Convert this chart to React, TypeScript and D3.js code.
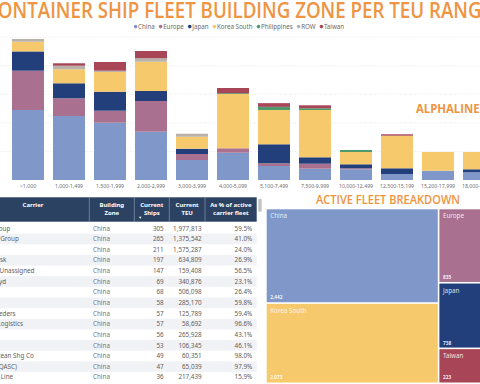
import React from "react";
import * as d3 from "d3";

const W = 480;
const H = 384;

// ---- Bar chart data (ships per TEU range by building zone) ----
const categories = [
  "<1,000", "1,000-1,499", "1,500-1,999", "2,000-2,999", "3,000-3,999", "4,000-5,099",
  "5,100-7,499", "7,500-9,999", "10,000-12,499", "12,500-15,199", "15,200-17,999", "18,000-24,000",
];
const seriesNames = ["China", "Europe", "Japan", "Korea South", "Philippines", "ROW", "Taiwan"];
const seriesColors = ["#7F97C9", "#A9718F", "#223E7B", "#F6C96C", "#4F9A6C", "#B8B2AA", "#A84658"];
const china = [490, 448, 401, 338, 140, 191, 98, 79, 75, 42, 65, 54];
const europe = [275, 124, 84, 215, 42, 31, 19, 35, 7, 0, 0, 0];
const japan = [135, 105, 133, 70, 37, 0, 133, 45, 28, 40, 0, 21];
const koreaSouth = [68, 98, 138, 205, 84, 380, 240, 331, 86, 228, 131, 121];
const philippines = [0, 0, 0, 0, 0, 6, 22, 12, 14, 0, 0, 0];
const rowOther = [19, 25, 9, 24, 21, 0, 0, 0, 0, 0, 0, 0];
const taiwan = [0, 17, 61, 51, 0, 36, 26, 21, 0, 10, 0, 0];
const gridTicks = [200, 400, 600, 800, 1000];

// ---- Table data ----
const tableHeaders = [["Carrier"], ["Building", "Zone"], ["Current", "Ships"], ["Current", "TEU"], ["As % of active", "carrier fleet"]];
const carriers = [
  "COSCO Group", "CMA CGM Group", "MSC", "APM-Maersk", "Unknown/Unassigned", "Hapag-Lloyd", "ONE", "Wan Hai",
  "X-Press Feeders", "Zhonggu Logistics", "ZIM", "SITC", "Ningbo Ocean Shg Co", "Ansheng (QASC)", "Evergreen Line",
];
const buildingZones = ["China", "China", "China", "China", "China", "China", "China", "China", "China", "China", "China", "China", "China", "China", "China"];
const currentShips = [305, 265, 211, 197, 147, 69, 68, 58, 57, 57, 56, 53, 49, 47, 36];
const currentTEU = [1977813, 1375542, 1575287, 634809, 159408, 340876, 506098, 285170, 125789, 58692, 265928, 106345, 60351, 65039, 217439];
const pctFleet = [59.5, 41.0, 24.0, 26.9, 56.5, 23.1, 26.4, 59.8, 59.4, 96.6, 43.1, 46.1, 98.0, 97.9, 15.9];

// ---- Treemap data ----
const fleetZones = ["China", "Korea South", "Europe", "Japan", "Taiwan", "ROW", "Philippines"];
const fleetShips = [2442, 2073, 835, 738, 223, 100, 70];
const fleetColors = ["#7F97C9", "#F6C96C", "#A9718F", "#223E7B", "#A84658", "#B8B2AA", "#4F9A6C"];

const FONT = "'Noto Sans', 'Open Sans', sans-serif";
const ORANGE = "#EE9442";

function measure(text: string, font: string): number {
  if (typeof document === "undefined") return text.length * 3.3;
  const c = document.createElement("canvas").getContext("2d");
  if (!c) return text.length * 3.3;
  c.font = font;
  return c.measureText(text).width;
}

export default function App() {
  // Bar chart scales
  const x = d3.scaleBand<string>().domain(categories).range([7.5, 499.5]).paddingInner(0.22).paddingOuter(0.11);
  const y = d3.scaleLinear().domain([0, 1000]).range([180, 180 - 1000 / 7]);
  const rows = categories.map((c, i) => ({
    cat: c,
    China: china[i],
    Europe: europe[i],
    Japan: japan[i],
    "Korea South": koreaSouth[i],
    Philippines: philippines[i],
    ROW: rowOther[i],
    Taiwan: taiwan[i],
  }));
  const stacked = d3.stack<any>().keys(seriesNames)(rows);

  // Legend layout
  const legFont = 6.2;
  const mk = 4.2; // marker + gap
  const itemGap = 4.2;
  const widths = seriesNames.map((s) => mk + measure(s, `${legFont}px 'Noto Sans'`));
  const total = d3.sum(widths) + itemGap * (seriesNames.length - 1);
  let cursor = 239 - total / 2;
  const legendItems = seriesNames.map((s, i) => {
    const it = { s, x: cursor, color: seriesColors[i] };
    cursor += widths[i] + itemGap;
    return it;
  });

  // Table layout
  const colEdges = [-40, 89.3, 134.3, 169.3, 205, 256.7];
  const headTop = 197.3;
  const headBot = 221.7;
  const rowH = 10.64;
  const rowY = d3.scaleLinear().domain([0, 1]).range([228.3, 228.3 + rowH]);
  const fmt = d3.format(",");

  // Treemap
  const root = d3
    .hierarchy<any>({ children: fleetZones.map((z, i) => ({ name: z, value: fleetShips[i], color: fleetColors[i] })) })
    .sum((d: any) => d.value || 0)
    .sort((a, b) => (b.value || 0) - (a.value || 0));
  d3.treemap<any>().size([246.3, 173.2]).paddingInner(1.6)(root);
  const tmX = 266.7;
  const tmY = 209.3;

  return (
    <svg width={W} height={H} viewBox={`0 0 ${W} ${H}`} style={{ position: "absolute", left: 0, top: 0, background: "#fff" }} fontFamily={FONT}>
      <rect x={0} y={0} width={W} height={H} fill="#fff" />
      {/* Title */}
      <text x={239} y={18.4} textAnchor="middle" fontSize={21} fontWeight={600} fill={ORANGE} textLength={506} lengthAdjust="spacingAndGlyphs" fontFamily="'Open Sans', sans-serif">
        CONTAINER SHIP FLEET BUILDING ZONE PER TEU RANGE
      </text>
      {/* Legend */}
      {legendItems.map((it) => (
        <g key={it.s}>
          <circle cx={it.x + 1.7} cy={26.6} r={1.8} fill={it.color} />
          <text x={it.x + mk} y={28.7} fontSize={legFont} fill="#6b6b6b">
            {it.s}
          </text>
        </g>
      ))}

      {/* Gridlines */}
      {gridTicks.map((t) => (
        <line key={t} x1={0} x2={W} y1={y(t)} y2={y(t)} stroke="#dcdcdc" strokeWidth={0.6} strokeDasharray="1,1.5" />
      ))}

      {/* Bars */}
      {stacked.map((layer, li) => (
        <g key={layer.key} fill={seriesColors[li]}>
          {layer.map((d, i) =>
            d[1] - d[0] > 0 ? (
              <rect key={i} x={x(categories[i])} y={y(d[1])} width={x.bandwidth()} height={y(d[0]) - y(d[1])} />
            ) : null
          )}
        </g>
      ))}
      {/* X labels */}
      {categories.map((c) => (
        <text key={c} x={(x(c) || 0) + x.bandwidth() / 2} y={188} textAnchor="middle" fontSize={5.2} fill="#707070">
          {c}
        </text>
      ))}

      {/* ALPHALINER */}
      <text x={416} y={113.3} fontSize={12.5} fontWeight={700} fill={ORANGE} textLength={71} lengthAdjust="spacingAndGlyphs" fontFamily="'Open Sans', sans-serif">
        ALPHALINER
      </text>

      {/* Table */}
      <g>
        {carriers.map((_, i) =>
          i % 2 === 1 ? (
            <rect key={"bg" + i} x={-40} y={rowY(i) - rowH / 2} width={296.7} height={rowH} fill="#F1F2F6" />
          ) : null
        )}
        <rect x={-40} y={headTop} width={296.7} height={headBot - headTop} fill="#2B4263" />
        {colEdges.slice(1, 5).map((e) => (
          <line key={e} x1={e} x2={e} y1={headTop} y2={headBot} stroke="#8a9ab3" strokeWidth={0.7} />
        ))}
        {tableHeaders.map((lines, ci) => {
          const cx = ci === 0 ? 33 : (colEdges[ci] + colEdges[ci + 1]) / 2;
          return (
            <text key={ci} x={cx} textAnchor="middle" fontSize={6} fontWeight={700} fill="#fff">
              {lines.map((l, li) => (
                <tspan key={li} x={cx} y={207 + li * 7.7}>
                  {l}
                </tspan>
              ))}
            </text>
          );
        })}
        <path d="M138.8,216.8 L141.6,216.8 L140.2,218.8 Z" fill="#fff" />
        {carriers.map((c, i) => (
          <g key={"r" + i} fontSize={6.3} fill="#5e5e5e">
            <text x={-31} y={rowY(i)} dy="0.35em">{c}</text>
            <text x={93} y={rowY(i)} dy="0.35em" fill="#777">{buildingZones[i]}</text>
            <text x={163.7} y={rowY(i)} dy="0.35em" textAnchor="end">{currentShips[i]}</text>
            <text x={201.7} y={rowY(i)} dy="0.35em" textAnchor="end">{fmt(currentTEU[i])}</text>
            <text x={252.3} y={rowY(i)} dy="0.35em" textAnchor="end">{pctFleet[i].toFixed(1) + "%"}</text>
          </g>
        ))}
        <rect x={258.3} y={198.8} width={3.4} height={13} rx={1} fill="#c4c4c4" />
      </g>

      {/* Treemap title */}
      <text x={388} y={204} textAnchor="middle" fontSize={12.5} fontWeight={600} fill={ORANGE} textLength={144} lengthAdjust="spacingAndGlyphs" fontFamily="'Open Sans', sans-serif">
        ACTIVE FLEET BREAKDOWN
      </text>
      {/* Treemap */}
      <g transform={`translate(${tmX},${tmY})`}>
        {root.leaves().map((n: any) => (
          <g key={n.data.name}>
            <rect x={n.x0} y={n.y0} width={n.x1 - n.x0} height={n.y1 - n.y0} fill={n.data.color} />
            <text x={n.x0 + 3.5} y={n.y0 + 9} fontSize={6.3} fill="#fff" fillOpacity={0.85}>
              {n.data.name}
            </text>
            <text x={n.x0 + 3.5} y={n.y1 - 3} fontSize={4.8} fontWeight={700} fill="#fff" fillOpacity={0.9}>
              {fmt(n.data.value)}
            </text>
          </g>
        ))}
      </g>
    </svg>
  );
}
